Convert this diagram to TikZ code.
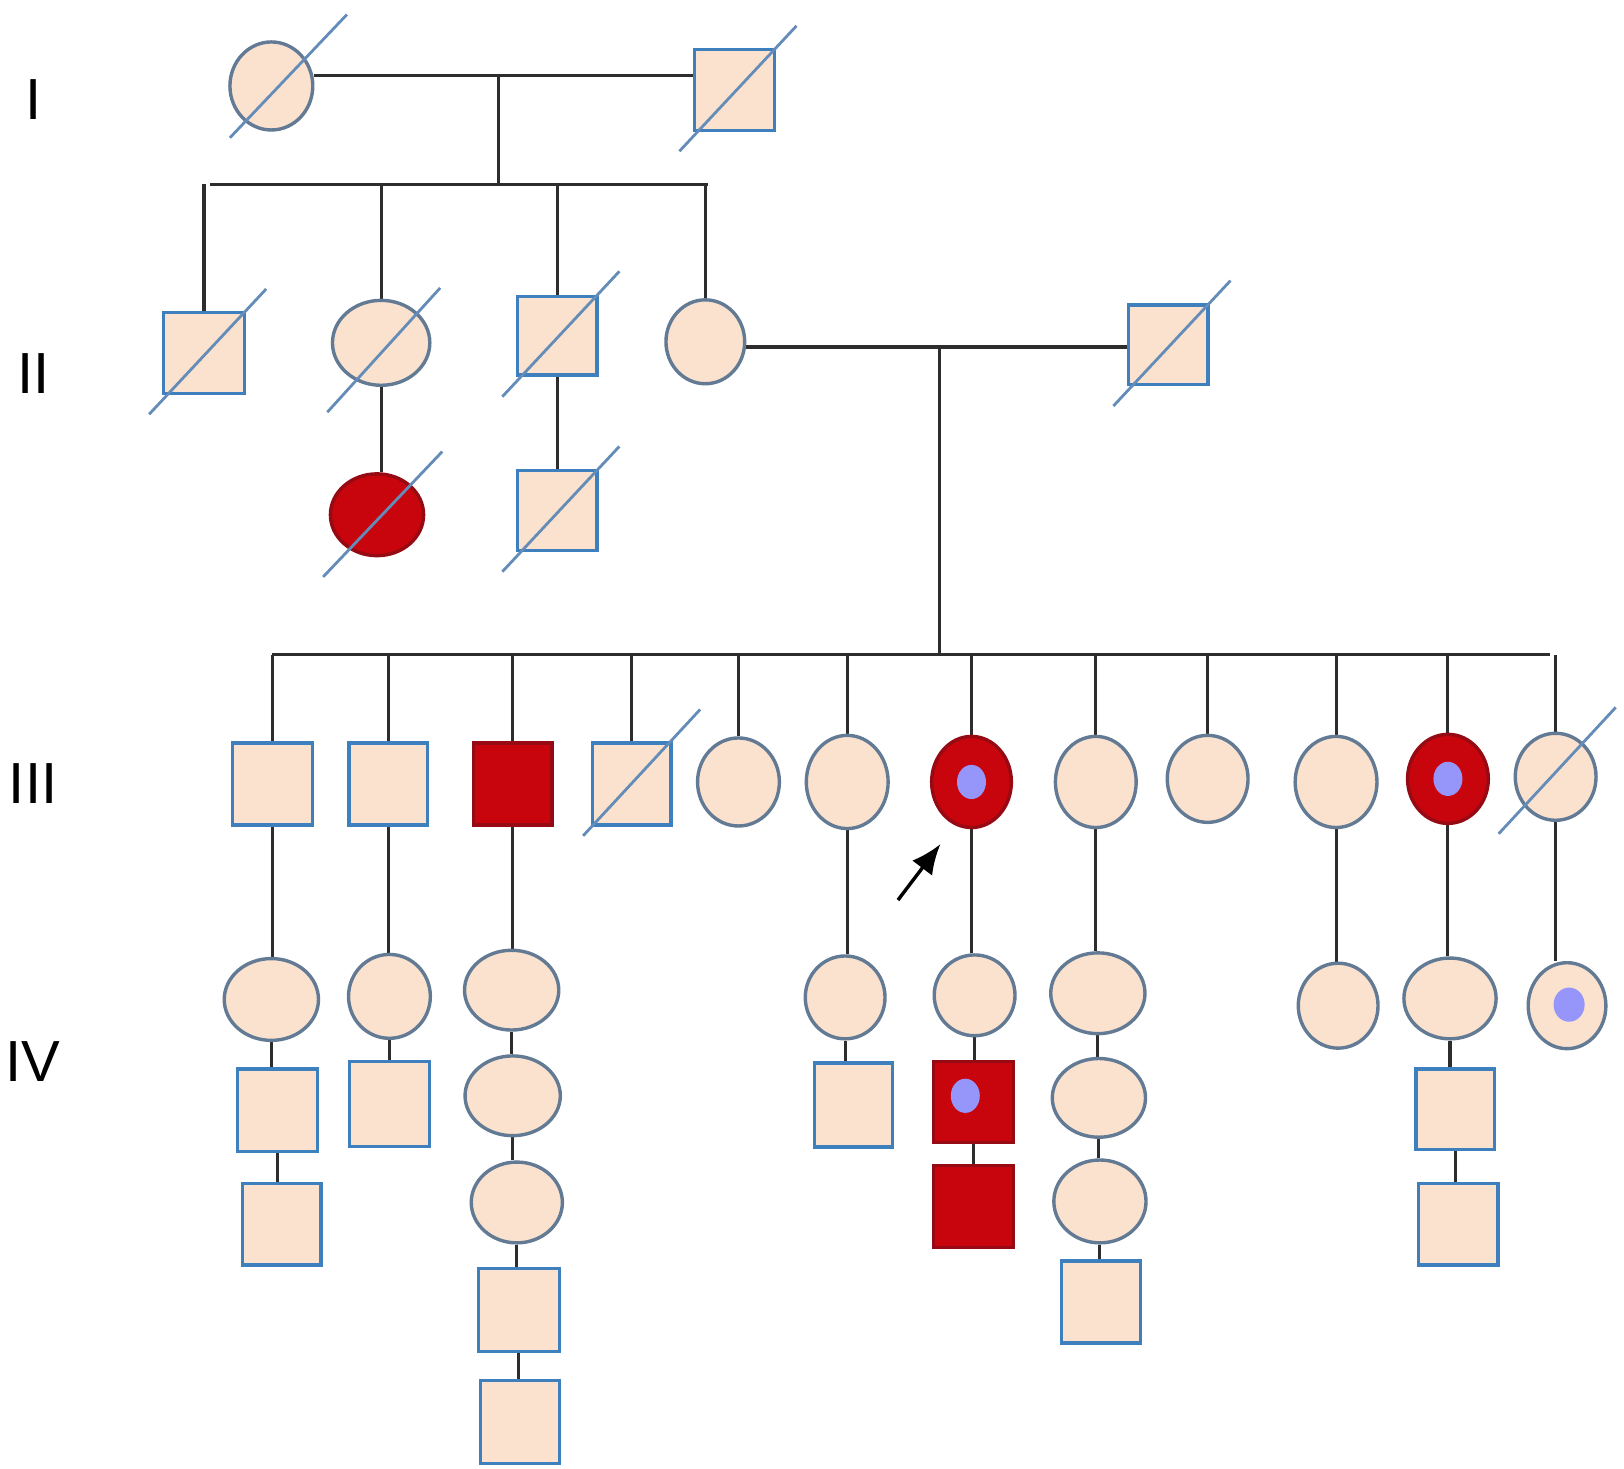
\documentclass[tikz,border=0pt]{standalone}
\usepackage{fontspec}
\setmainfont{Liberation Sans}
\usetikzlibrary{shapes.geometric,arrows.meta,backgrounds}
\definecolor{peach}{RGB}{251,226,206}
\definecolor{sqblue}{RGB}{62,128,190}
\definecolor{cirgray}{RGB}{98,122,148}
\definecolor{slashc}{RGB}{100,140,185}
\definecolor{redc}{RGB}{200,4,12}
\definecolor{redd}{RGB}{150,10,20}
\definecolor{dotc}{RGB}{150,150,250}
\definecolor{linec}{RGB}{45,45,45}
\newcommand\deadmark[1]{\draw[slashln] ([shift={(-53,59)}]#1.center) -- ([shift={(60,-62)}]#1.center);}
\newcommand\deadmarkat[5]{\draw[slashln] ([shift={(#2,#3)}]#1.center) -- ([shift={(#4,#5)}]#1.center);}
\begin{document}
\begin{tikzpicture}[x=1.0357pt,y=-1.0357pt,
  male/.style={rectangle,draw=sqblue,fill=peach,line width=3.4pt,inner sep=0pt,minimum size=80pt},
  msq/.style 2 args={male,minimum width=#1*1.0357pt,minimum height=#2*1.0357pt},
  redmale/.style={male,fill=redc,draw=redd},
  female/.style={ellipse,draw=cirgray,fill=peach,line width=3.4pt,inner sep=0pt},
  fem/.style 2 args={female,minimum width=#1*1.0357pt,minimum height=#2*1.0357pt},
  redfem/.style={female,fill=redc,draw=redd},
  dotmark/.style 2 args={ellipse,fill=dotc,draw=none,inner sep=0pt,minimum width=#1*1.0357pt,minimum height=#2*1.0357pt},
  conn/.style={draw=linec,line width=3.1pt},
  slashln/.style={draw=slashc,line width=2.8pt},
  gen/.style={font=\fontsize{58}{62}\selectfont,inner sep=0pt}]
\useasboundingbox (0,0) rectangle (1568,1418);
\begin{scope}[on background layer]
\fill[white] (0,0) rectangle (1568,1418);
\end{scope}

% generation labels
\node[gen] (gI) at (32,96) {I};
\node[gen] (gII) at (32,361) {II};
\node[gen] (gIII) at (32,757) {III};
\node[gen] (gIV) at (32,1025) {IV};

% Generation I
\node[fem={80}{85}] (fI) at (262,83) {};
\node[msq={77}{78}] (mI) at (709,87) {};
\coordinate (cI) at (481,73);
\coordinate (sI) at (481,178);
\coordinate (sIL) at (203,178);
\coordinate (sIR) at (684,178);

% Generation II
\node[msq={78}{78}] (IIa) at (197,341) {};
\node[fem={94}{82}] (IIb) at (368,331) {};
\node[msq={77}{76}] (IIc) at (538,324) {};
\node[fem={76}{81}] (IId) at (681,330) {};
\node[msq={77}{77}] (IIs) at (1128,333) {};
\node[redfem,minimum width=90*1.0357pt,minimum height=79*1.0357pt] (IIe) at (364,497) {};
\node[msq={77}{77}] (IIf) at (538,493) {};
\coordinate (cII) at (907,335);
\coordinate (sII) at (907,632);
\coordinate (sIIL) at (263,632);
\coordinate (sIIR) at (1497,632);

% Generation III
\node[msq={77}{79}] (IIIa) at (263,757) {};
\node[msq={76}{79}] (IIIb) at (375,757) {};
\node[redmale,minimum width=76*1.0357pt,minimum height=79*1.0357pt] (IIIc) at (495,757) {};
\node[msq={76}{79}] (IIId) at (610,757) {};
\node[fem={79}{85}] (IIIe) at (713,755) {};
\node[fem={79}{90}] (IIIf) at (818,755) {};
\node[redfem,minimum width=77*1.0357pt,minimum height=88*1.0357pt] (IIIg) at (938,755) {};
\node[dotmark={28}{33}] (IIIgdot) at (938,755) {};
\node[fem={78}{88}] (IIIh) at (1058,755) {};
\node[fem={78}{84}] (IIIi) at (1166,752) {};
\node[fem={79}{88}] (IIIj) at (1290,755) {};
\node[redfem,minimum width=78*1.0357pt,minimum height=86*1.0357pt] (IIIk) at (1398,752) {};
\node[dotmark={28}{33}] (IIIkdot) at (1398,752) {};
\node[fem={78}{84}] (IIIl) at (1502,750) {};

% Generation IV
\node[fem={91}{79}] (IVa1) at (262,965) {};
\node[msq={77}{80}] (IVa2) at (268,1072) {};
\node[msq={76}{79}] (IVa3) at (272,1182) {};
\node[fem={79}{81}] (IVb1) at (376,962) {};
\node[msq={77}{82}] (IVb2) at (376,1066) {};
\node[fem={91}{77}] (IVc1) at (494,956) {};
\node[fem={92}{77}] (IVc2) at (495,1058) {};
\node[fem={88}{78}] (IVc3) at (499,1161) {};
\node[msq={78}{80}] (IVc4) at (501,1265) {};
\node[msq={76}{80}] (IVc5) at (502,1373) {};
\node[fem={77}{80}] (IVf1) at (816,963) {};
\node[msq={75}{81}] (IVf2) at (824,1067) {};
\node[fem={78}{78}] (IVg1) at (941,961) {};
\node[redmale,minimum width=77*1.0357pt,minimum height=78*1.0357pt] (IVg2) at (940,1064) {};
\node[dotmark={28}{33}] (IVg2dot) at (932,1058) {};
\node[redmale,minimum width=77*1.0357pt,minimum height=79*1.0357pt] (IVg3) at (940,1165) {};
\node[fem={91}{78}] (IVh1) at (1060,959) {};
\node[fem={90}{76}] (IVh2) at (1061,1060) {};
\node[fem={89}{80}] (IVh3) at (1062,1160) {};
\node[msq={76}{79}] (IVh4) at (1063,1257) {};
\node[fem={77}{82}] (IVj1) at (1292,971) {};
\node[fem={89}{78}] (IVk1) at (1400,964) {};
\node[msq={76}{78}] (IVk2) at (1405,1071) {};
\node[msq={77}{79}] (IVk3) at (1408,1182) {};
\node[fem={75}{83}] (IVl1) at (1513,971) {};
\node[dotmark={30}{33}] (IVl1dot) at (1515,970) {};

% arrow
\coordinate (arT) at (867,869);
\coordinate (arH) at (908,815);
\draw[draw=black,line width=3.4pt,-{Latex[length=30pt,width=25pt]}] (arT) -- (arH);

% connectors
\begin{scope}[on background layer]
\draw[conn] (fI.east |- cI) -- (mI.west |- cI);
\draw[conn] (cI) -- (sI);
\draw[conn] (sIL) -- (sIR);
\foreach \n in {IIa,IIb,IIc,IId} {\draw[conn] (\n.north |- sI) -- (\n.north);}
\draw[conn] (IIb.south) -- (IIb.south |- IIe.north);
\draw[conn] (IIc.south) -- (IIc.south |- IIf.north);
\draw[conn] (IId.east |- cII) -- (IIs.west |- cII);
\draw[conn] (cII) -- (sII);
\draw[conn] (sIIL) -- (sIIR);
\foreach \n in {IIIa,IIIb,IIIc,IIId,IIIe,IIIf,IIIg,IIIh,IIIi,IIIj,IIIk,IIIl} {\draw[conn] (\n.north |- sII) -- (\n.north);}
\draw[conn] (IIIa.south) -- (IIIa.south |- IVa1.north);
\draw[conn] (IVa1.south) -- (IVa1.south |- IVa2.north);
\draw[conn] (IVa2.south) -- (IVa2.south |- IVa3.north);
\draw[conn] (IIIb.south) -- (IIIb.south |- IVb1.north);
\draw[conn] (IVb1.south) -- (IVb1.south |- IVb2.north);
\draw[conn] (IIIc.south) -- (IIIc.south |- IVc1.north);
\draw[conn] (IVc1.south) -- (IVc1.south |- IVc2.north);
\draw[conn] (IVc2.south) -- (IVc2.south |- IVc3.north);
\draw[conn] (IVc3.south) -- (IVc3.south |- IVc4.north);
\draw[conn] (IVc4.south) -- (IVc4.south |- IVc5.north);
\draw[conn] (IIIf.south) -- (IIIf.south |- IVf1.north);
\draw[conn] (IVf1.south) -- (IVf1.south |- IVf2.north);
\draw[conn] (IIIg.south) -- (IIIg.south |- IVg1.north);
\draw[conn] (IVg1.south) -- (IVg1.south |- IVg2.north);
\draw[conn] (IVg2.south) -- (IVg2.south |- IVg3.north);
\draw[conn] (IIIh.south) -- (IIIh.south |- IVh1.north);
\draw[conn] (IVh1.south) -- (IVh1.south |- IVh2.north);
\draw[conn] (IVh2.south) -- (IVh2.south |- IVh3.north);
\draw[conn] (IVh3.south) -- (IVh3.south |- IVh4.north);
\draw[conn] (IIIj.south) -- (IIIj.south |- IVj1.north);
\draw[conn] (IIIk.south) -- (IIIk.south |- IVk1.north);
\draw[conn] (IVk1.south) -- (IVk1.south |- IVk2.north);
\draw[conn] (IVk2.south) -- (IVk2.south |- IVk3.north);
\draw[conn] (IIIl.south) -- (IIIl.south |- IVl1.north);
\end{scope}

% deceased marks
\deadmarkat{fI}{-40}{50}{73}{-69}
\deadmark{mI}
\deadmark{IIa}
\deadmarkat{IIb}{-52}{67}{57}{-53}
\deadmark{IIc}
\deadmark{IIs}
\deadmarkat{IIe}{-52}{60}{63}{-61}
\deadmark{IIf}
\deadmarkat{IIId}{-47}{50}{66}{-72}
\deadmarkat{IIIl}{-55}{55}{58}{-67}
\end{tikzpicture}
\end{document}
